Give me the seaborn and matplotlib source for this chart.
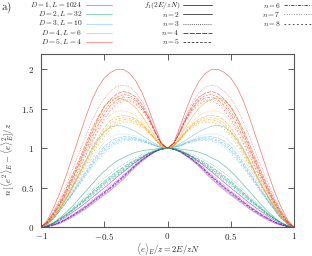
import pandas as pd
import matplotlib
matplotlib.use('Agg')
import matplotlib.pyplot as plt
from matplotlib.lines import Line2D
import seaborn as sns

# the curves are symmetric in e -> -e, so only the half 0..1 is kept
e_half = [0.0, 0.05, 0.1, 0.15, 0.2, 0.25, 0.3, 0.35, 0.4, 0.45, 0.5,
          0.55, 0.6, 0.65, 0.7, 0.75, 0.8, 0.85, 0.9, 0.95, 1.0]

f1 = [1.00, 0.99, 0.955, 0.90, 0.84, 0.77, 0.69, 0.61, 0.54, 0.47, 0.41,
      0.35, 0.29, 0.23, 0.18, 0.13, 0.09, 0.05, 0.025, 0.008, 0.00]

n_values = ['n2', 'n3', 'n4', 'n5', 'n6', 'n7', 'n8']

# rows: n = 2 .. 8
D1_L1024 = [
    [1.00, 0.99, 0.965, 0.93, 0.885, 0.83, 0.765, 0.70, 0.635, 0.565, 0.50, 0.435, 0.37, 0.305, 0.245, 0.19, 0.135, 0.085, 0.045, 0.015, 0.00],
    [1.00, 0.99, 0.961, 0.918, 0.867, 0.805, 0.735, 0.664, 0.596, 0.527, 0.463, 0.40, 0.337, 0.274, 0.218, 0.165, 0.116, 0.071, 0.037, 0.012, 0.00],
    [1.00, 0.99, 0.959, 0.913, 0.859, 0.795, 0.723, 0.65, 0.58, 0.511, 0.448, 0.386, 0.324, 0.262, 0.207, 0.155, 0.108, 0.065, 0.034, 0.011, 0.00],
    [1.00, 0.99, 0.959, 0.91, 0.855, 0.79, 0.717, 0.642, 0.573, 0.503, 0.441, 0.379, 0.317, 0.255, 0.201, 0.15, 0.105, 0.063, 0.032, 0.01, 0.00],
    [1.00, 0.99, 0.958, 0.908, 0.852, 0.786, 0.712, 0.637, 0.566, 0.497, 0.435, 0.373, 0.312, 0.25, 0.197, 0.146, 0.102, 0.06, 0.031, 0.01, 0.00],
    [1.00, 0.99, 0.957, 0.907, 0.85, 0.783, 0.709, 0.632, 0.562, 0.493, 0.43, 0.369, 0.308, 0.247, 0.193, 0.143, 0.099, 0.059, 0.03, 0.01, 0.00],
    [1.00, 0.99, 0.957, 0.905, 0.848, 0.78, 0.705, 0.628, 0.557, 0.488, 0.426, 0.365, 0.304, 0.243, 0.19, 0.14, 0.097, 0.057, 0.029, 0.009, 0.00],
]

D2_L32 = [
    [1.00, 1.00, 0.99, 0.98, 0.97, 0.95, 0.92, 0.88, 0.84, 0.78, 0.71, 0.63, 0.54, 0.45, 0.36, 0.27, 0.19, 0.12, 0.06, 0.02, 0.00],
    [1.00, 0.995, 0.975, 0.95, 0.92, 0.885, 0.845, 0.795, 0.745, 0.685, 0.62, 0.545, 0.47, 0.39, 0.315, 0.24, 0.17, 0.11, 0.055, 0.02, 0.00],
    [1.00, 0.993, 0.969, 0.938, 0.90, 0.859, 0.815, 0.761, 0.707, 0.647, 0.584, 0.511, 0.442, 0.366, 0.297, 0.228, 0.162, 0.106, 0.053, 0.02, 0.00],
    [1.00, 0.992, 0.966, 0.932, 0.89, 0.846, 0.80, 0.744, 0.688, 0.628, 0.566, 0.494, 0.428, 0.354, 0.288, 0.222, 0.158, 0.104, 0.052, 0.02, 0.00],
    [1.00, 0.991, 0.964, 0.927, 0.882, 0.836, 0.788, 0.73, 0.673, 0.613, 0.552, 0.48, 0.417, 0.344, 0.281, 0.217, 0.155, 0.102, 0.051, 0.02, 0.00],
    [1.00, 0.991, 0.962, 0.924, 0.876, 0.828, 0.779, 0.72, 0.661, 0.601, 0.541, 0.47, 0.408, 0.337, 0.275, 0.214, 0.152, 0.101, 0.051, 0.02, 0.00],
    [1.00, 0.99, 0.96, 0.92, 0.87, 0.82, 0.77, 0.71, 0.65, 0.59, 0.53, 0.46, 0.40, 0.33, 0.27, 0.21, 0.15, 0.10, 0.05, 0.02, 0.00],
]

D3_L10 = [
    [1.00, 1.02, 1.06, 1.11, 1.16, 1.21, 1.25, 1.28, 1.29, 1.27, 1.21, 1.11, 0.98, 0.83, 0.67, 0.51, 0.36, 0.23, 0.12, 0.04, 0.00],
    [1.00, 1.015, 1.045, 1.085, 1.12, 1.155, 1.175, 1.185, 1.175, 1.14, 1.075, 0.98, 0.865, 0.735, 0.60, 0.465, 0.335, 0.22, 0.115, 0.04, 0.00],
    [1.00, 1.013, 1.039, 1.075, 1.104, 1.133, 1.145, 1.147, 1.129, 1.088, 1.021, 0.928, 0.819, 0.697, 0.572, 0.447, 0.325, 0.216, 0.113, 0.04, 0.00],
    [1.00, 1.012, 1.036, 1.07, 1.096, 1.122, 1.13, 1.128, 1.106, 1.062, 0.994, 0.902, 0.796, 0.678, 0.558, 0.438, 0.32, 0.214, 0.112, 0.04, 0.00],
    [1.00, 1.011, 1.034, 1.066, 1.09, 1.113, 1.118, 1.113, 1.088, 1.041, 0.972, 0.881, 0.778, 0.663, 0.547, 0.431, 0.316, 0.212, 0.111, 0.04, 0.00],
    [1.00, 1.011, 1.032, 1.063, 1.085, 1.107, 1.109, 1.101, 1.074, 1.026, 0.956, 0.866, 0.764, 0.651, 0.538, 0.425, 0.313, 0.211, 0.111, 0.04, 0.00],
    [1.00, 1.01, 1.03, 1.06, 1.08, 1.10, 1.10, 1.09, 1.06, 1.01, 0.94, 0.85, 0.75, 0.64, 0.53, 0.42, 0.31, 0.21, 0.11, 0.04, 0.00],
]

D4_L6 = [
    [1.00, 1.04, 1.15, 1.28, 1.41, 1.51, 1.58, 1.62, 1.64, 1.61, 1.52, 1.37, 1.19, 1.00, 0.81, 0.62, 0.44, 0.28, 0.15, 0.05, 0.00],
    [1.00, 1.035, 1.13, 1.24, 1.34, 1.41, 1.455, 1.475, 1.47, 1.425, 1.335, 1.205, 1.05, 0.885, 0.72, 0.555, 0.40, 0.26, 0.14, 0.05, 0.00],
    [1.00, 1.033, 1.122, 1.224, 1.312, 1.37, 1.405, 1.417, 1.402, 1.351, 1.261, 1.139, 0.994, 0.839, 0.684, 0.529, 0.384, 0.252, 0.136, 0.05, 0.00],
    [1.00, 1.032, 1.118, 1.216, 1.298, 1.35, 1.38, 1.388, 1.368, 1.314, 1.224, 1.106, 0.966, 0.816, 0.666, 0.516, 0.376, 0.248, 0.134, 0.05, 0.00],
    [1.00, 1.031, 1.115, 1.21, 1.287, 1.334, 1.36, 1.365, 1.341, 1.284, 1.194, 1.08, 0.944, 0.798, 0.652, 0.506, 0.37, 0.245, 0.132, 0.05, 0.00],
    [1.00, 1.031, 1.112, 1.205, 1.278, 1.322, 1.345, 1.347, 1.32, 1.262, 1.172, 1.06, 0.927, 0.784, 0.641, 0.498, 0.365, 0.242, 0.131, 0.05, 0.00],
    [1.00, 1.03, 1.11, 1.20, 1.27, 1.31, 1.33, 1.33, 1.30, 1.24, 1.15, 1.04, 0.91, 0.77, 0.63, 0.49, 0.36, 0.24, 0.13, 0.05, 0.00],
]

D5_L4 = [
    [1.00, 1.07, 1.28, 1.50, 1.70, 1.85, 1.95, 2.00, 2.00, 1.96, 1.89, 1.77, 1.60, 1.38, 1.14, 0.90, 0.66, 0.44, 0.25, 0.09, 0.00],
    [1.00, 1.065, 1.24, 1.43, 1.59, 1.705, 1.775, 1.80, 1.78, 1.72, 1.63, 1.50, 1.335, 1.14, 0.935, 0.735, 0.54, 0.36, 0.205, 0.075, 0.00],
    [1.00, 1.06, 1.22, 1.40, 1.55, 1.65, 1.70, 1.72, 1.69, 1.62, 1.53, 1.39, 1.23, 1.04, 0.85, 0.67, 0.49, 0.33, 0.19, 0.07, 0.00],
    [1.00, 1.06, 1.22, 1.39, 1.52, 1.62, 1.67, 1.68, 1.65, 1.58, 1.47, 1.34, 1.18, 1.00, 0.81, 0.64, 0.47, 0.31, 0.18, 0.07, 0.00],
    [1.00, 1.06, 1.21, 1.38, 1.51, 1.60, 1.64, 1.65, 1.61, 1.54, 1.43, 1.29, 1.13, 0.96, 0.78, 0.61, 0.45, 0.30, 0.17, 0.06, 0.00],
    [1.00, 1.06, 1.20, 1.37, 1.49, 1.58, 1.62, 1.62, 1.59, 1.51, 1.40, 1.26, 1.10, 0.93, 0.75, 0.59, 0.43, 0.29, 0.16, 0.06, 0.00],
    [1.00, 1.06, 1.20, 1.36, 1.48, 1.56, 1.60, 1.60, 1.56, 1.48, 1.37, 1.23, 1.07, 0.90, 0.73, 0.57, 0.42, 0.28, 0.16, 0.06, 0.00],
]

systems = ['$D=1, L=1024$', '$D=2, L=32$', '$D=3, L=10$', '$D=4, L=6$', '$D=5, L=4$']
sys_colors = ['#9400d3', '#009e73', '#56b4e9', '#e69f00', '#e51e10']
n_labels = ['$n=2$', '$n=3$', '$n=4$', '$n=5$', '$n=6$', '$n=7$', '$n=8$']
dash_styles = {'n2': '', 'n3': (1, 1.5), 'n4': (6, 1.5), 'n5': (3, 2),
               'n6': (4, 1.5, 1, 1.5), 'n7': (0.7, 2.2), 'n8': (2, 3)}


def mirror(yh):
    e = [-v for v in e_half[::-1]] + e_half[1:]
    y = yh[::-1] + yh[1:]
    return e, y


# long table: one line per (system, n)
rows = []
for name, curves in zip(systems, [D1_L1024, D2_L32, D3_L10, D4_L6, D5_L4]):
    for n, yh in zip(n_values, curves):
        e, y = mirror(yh)
        for a, b in zip(e, y):
            rows.append({'e': a, 'val': b, 'system': name, 'n': n})
df = pd.DataFrame(rows)

sns.set_theme(style='ticks')
plt.rcParams['mathtext.fontset'] = 'cm'
plt.rcParams['font.family'] = ['DejaVu Serif']

W, H = 312, 256
fig = plt.figure(figsize=(W / 100, H / 100), dpi=100)
ax = fig.add_axes([41 / W, 28.7 / H, 253 / W, 173.8 / H])

e_f1, y_f1 = mirror(f1)
sns.lineplot(x=e_f1, y=y_f1, color='#bbbbbb', linewidth=0.8, ax=ax)

sns.lineplot(data=df, x='e', y='val', hue='system', style='n',
             palette=dict(zip(systems, sys_colors)), dashes=dash_styles,
             estimator=None, sort=False, legend=False,
             linewidth=0.5, alpha=0.6, ax=ax)

ax.set_xlim(-1, 1)
ax.set_ylim(0, 2.2)
ax.set_xticks([-1, -0.5, 0, 0.5, 1])
ax.set_xticklabels(['$-1$', '$-0.5$', '$0$', '$0.5$', '$1$'])
ax.set_yticks([0, 0.5, 1, 1.5, 2])
ax.set_yticklabels(['$0$', '$0.5$', '$1$', '$1.5$', '$2$'])
ax.tick_params(direction='in', top=True, right=True, length=4, width=0.6,
               labelsize=6.5, color='#444444', pad=3)
ax.tick_params(axis='x', pad=2.5)
ax.tick_params(axis='y', pad=5)
for s in ax.spines.values():
    s.set_linewidth(0.8)
    s.set_color('#555555')

ax.set_xlabel(r'$\langle e\rangle_E/z = 2E/zN$', fontsize=6.2)
ax.xaxis.set_label_coords(0.5, -0.08)
ax.set_ylabel(r'$n\,[\langle e^2\rangle_E - \langle e\rangle_E^2]/z$', fontsize=6.5)
ax.yaxis.set_label_coords(-0.1, 0.39)

fig.text(1 / W, 1 - 8 / H, r'$\mathrm{a)}$', fontsize=8, va='center', ha='left')

# gnuplot-like key: text right aligned, sample after it
row_y = [5.2, 14.4, 23.6, 32.8, 42.0]


def key(text, x_text, x0, x1, yy, color, dash, alpha=1.0):
    fy = 1 - yy / H
    fig.text(x_text / W, fy, text, fontsize=5.4, ha='right', va='center')
    ln = Line2D([x0 / W, x1 / W], [fy, fy], transform=fig.transFigure,
                color=color, linewidth=0.6, alpha=alpha)
    if dash:
        ln.set_dashes(dash)
    fig.add_artist(ln)


for i, (name, c) in enumerate(zip(systems, sys_colors)):
    key(name, 82, 86, 112, row_y[i], c, '', alpha=0.5)

key('$f_1(2E/zN)$', 180, 183, 212, row_y[0], '#333333', '')
for i in range(4):
    key(n_labels[i], 180, 183, 212, row_y[i + 1], '#333333', dash_styles[n_values[i]])
for i in range(4, 7):
    key(n_labels[i], 281, 284, 311, row_y[i - 4], '#333333', dash_styles[n_values[i]])

fig.savefig('out.png', dpi=100)
